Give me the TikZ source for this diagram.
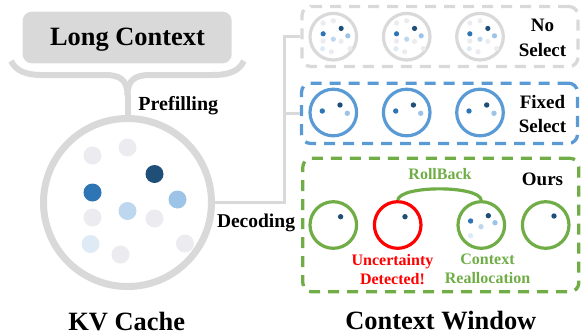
\documentclass[tikz,border=0pt]{standalone}
\usepackage{fontspec}
\setmainfont{Liberation Serif}[BoldFont={Liberation Serif Bold}]
\definecolor{lgray}{HTML}{D9D9D9}
\definecolor{cnavy}{HTML}{1F4E79}
\definecolor{cblue}{HTML}{2E75B6}
\definecolor{clb}{HTML}{9DC3E6}
\definecolor{clbb}{HTML}{BDD7EE}
\definecolor{cvlb}{HTML}{DEEBF7}
\definecolor{cdot}{HTML}{EBEBF0}
\definecolor{bbox}{HTML}{5B9BD5}
\definecolor{gbox}{HTML}{70AD47}
\definecolor{rred}{HTML}{FF0000}
\newcommand\kvdots[3]{%
  \foreach \dx/\dy/\cc in {-35/-47/cdot, 0/-55/cdot, 27/-28.5/cnavy, -35/-10/cblue, 50/-3/clb, 0/8.5/clbb, -35/15/cdot, 27/16/cdot, -37/41.5/cvlb, 57.5/41/cdot, -7/52/cdot}
    \fill[fill=\cc] ({#1+#3*(\dx)},{#2+#3*(\dy)}) circle[radius={#3*9pt}];%
}
\newcommand\onedot[3]{\fill[fill=#3] (#1,#2) circle[radius=2.7pt];}
\begin{document}
\begin{tikzpicture}[x=1pt,y=-1pt,
  kvc/.style={circle, draw=lgray, line width=7pt, minimum size=168pt, inner sep=0pt},
  smallc/.style={circle, line width=3.2pt, minimum size=46.6pt, inner sep=0pt},
  boxd/.style={rounded corners=9pt, line width=3.3pt, dash pattern=on 11pt off 8pt, inner sep=0pt, minimum width=276pt},
  conn/.style={draw=lgray, line width=3.3pt},
  brace/.style={draw=lgray, line width=6pt},
  big/.style={inner sep=0pt, font=\bfseries\fontsize{26.4}{30}\selectfont},
  mid/.style={inner sep=0pt, font=\bfseries\fontsize{19.5}{24}\selectfont},
  side/.style={inner sep=0pt, align=center, font=\bfseries\fontsize{19}{24.4}\selectfont},
  small/.style={inner sep=0pt, align=center, font=\bfseries\fontsize{16}{19}\selectfont},
]
\useasboundingbox (0,0) rectangle (583,335);

% Long context box
\node[fill=lgray, rounded corners=9pt, minimum width=209pt, minimum height=51.6pt, inner sep=0pt] (lcbox) at (127.2,37.5) {};
\node[big, anchor=base] (lct) at (127.5,45.7) {Long Context};

% KV cache circle
\node[kvc] (kv) at (127.5,202.5) {};
\kvdots{127.5}{202.5}{1}

% brace
\coordinate (bl) at (11,61);
\coordinate (br) at (244,61);
\coordinate (stem) at (127.5,95);
\draw[brace] (bl) .. controls (16,71) and (26,75) .. (42,75) -- (105,75) .. controls (120,75) and (127.5,80) .. (stem);
\draw[brace] (br) .. controls (239,71) and (229,75) .. (213,75) -- (150,75) .. controls (135,75) and (127.5,80) .. (stem);
\draw[brace] (stem) -- (kv.north);

\node[inner sep=0pt, anchor=base, font=\bfseries\fontsize{20}{24}\selectfont] (pref) at (178.3,110) {Prefilling};
\node[mid, anchor=base] (deco) at (256,227.7) {Decoding};
\node[big, anchor=base] (kvl) at (126.7,330.7) {KV Cache};
\node[big, anchor=base] (cwl) at (440.8,329) {Context Window};

% boxes
\node[boxd, draw=lgray, minimum height=60pt] (nosel) at (440,36.5) {};
\node[boxd, draw=bbox, minimum height=60.3pt] (fixsel) at (439.5,113.3) {};
\node[boxd, draw=gbox, minimum height=133.6pt] (ours) at (440.8,225) {};

% connectors
\coordinate (j) at (284.5,202.5);
\draw[conn] (kv.east) -- (j) |- (nosel.west);
\draw[conn] (j) |- (fixsel.west);

% No select row
\node[smallc, draw=lgray] (n1) at (333.3,36.7) {};
\node[smallc, draw=lgray] (n2) at (406.7,36.7) {};
\node[smallc, draw=lgray] (n3) at (480,36.7) {};
\kvdots{333.3}{36.7}{0.29}
\kvdots{406.7}{36.7}{0.29}
\kvdots{480}{36.7}{0.29}
\node[side] (nsl) at (542.5,38) {No\\Select};

% Fixed select row
\node[smallc, draw=bbox] (f1) at (333.3,112.5) {};
\node[smallc, draw=bbox] (f2) at (406.7,112.5) {};
\node[smallc, draw=bbox] (f3) at (480,112.5) {};
\foreach \cx in {333.3,406.7,480}{
  \onedot{\cx+6.7}{105}{cnavy}
  \onedot{\cx-11}{111}{cblue}
  \onedot{\cx+14}{113.3}{clb}
}
\node[side] (fsl) at (542.5,114) {Fixed\\Select};

% Ours row
\node[smallc, draw=gbox] (o1) at (333.3,225) {};
\node[smallc, draw=rred] (o2) at (397.7,225) {};
\node[smallc, draw=gbox] (o3) at (481.3,225) {};
\node[smallc, draw=gbox] (o4) at (545.7,225) {};
\onedot{340.6}{216.7}{cnavy}
\onedot{405}{216.7}{cnavy}
\onedot{554}{216}{cnavy}
\onedot{470.6}{221}{cblue}
\onedot{488.3}{215.7}{cnavy}
\onedot{495}{222.7}{clb}
\onedot{481}{226.7}{clbb}
\onedot{470.6}{235.7}{cvlb}

\draw[draw=gbox, line width=3.2pt] (o2.north) .. controls +(2,-15) and +(-2,-15) .. (o3.north);
\node[small, anchor=base, text=gbox] (rb) at (440,179.3) {RollBack};
\node[side, anchor=base] (ourl) at (542.5,185.7) {Ours};
\node[small, text=rred] (unc) at (392.5,269.2) {Uncertainty\\Detected!};
\node[small, text=gbox] (realloc) at (487.5,269.2) {Context\\Reallocation};
\end{tikzpicture}
\end{document}
